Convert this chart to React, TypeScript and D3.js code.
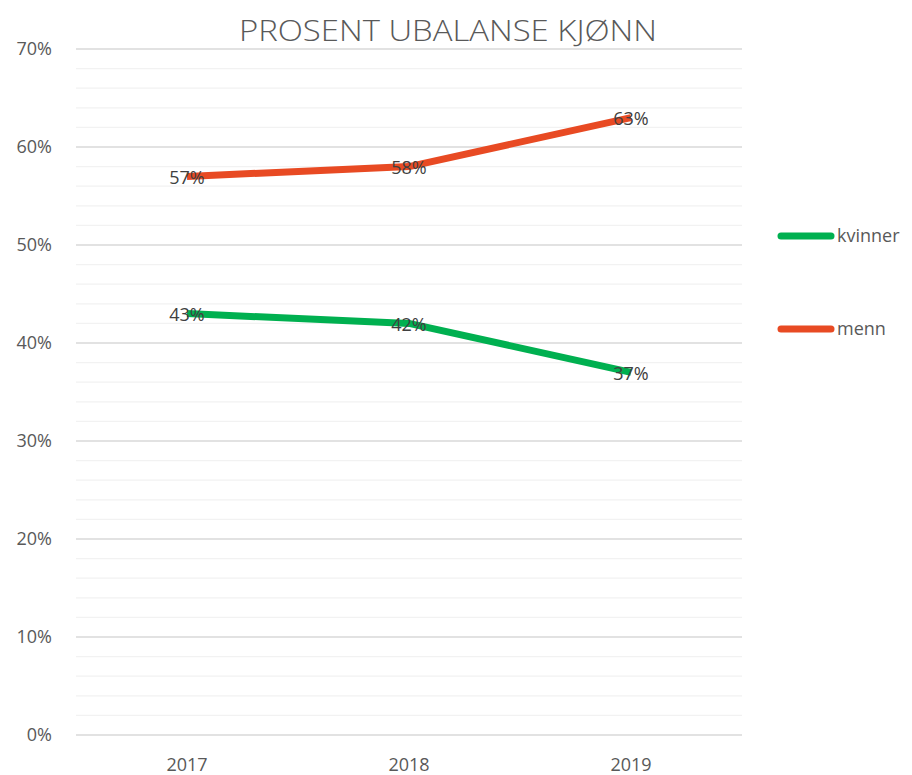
import React, { useEffect, useRef } from "react";
import * as d3 from "d3";

const years = ["2017", "2018", "2019"];
const kvinner = [43, 42, 37];
const menn = [57, 58, 63];
const seriesNames = ["kvinner", "menn"];
const seriesColors = ["#00B050", "#E84A23"];
const yTicks = [0, 10, 20, 30, 40, 50, 60, 70];
const title = "PROSENT UBALANSE KJØNN";

const App = () => {
  const ref = useRef<SVGSVGElement>(null);

  useEffect(() => {
    const width = 912;
    const height = 775;
    const margin = { top: 49, left: 76, right: 170, bottom: 40 };
    const font = "'Open Sans', sans-serif";

    const svg = d3.select(ref.current).attr("width", width).attr("height", height);
    svg.selectAll("*").remove();

    const x = d3
      .scaleBand()
      .domain(years)
      .range([margin.left, width - margin.right]);
    const y = d3
      .scaleLinear()
      .domain([0, 70])
      .range([height - margin.bottom, margin.top]);

    // minor gridlines every 2%
    svg
      .append("g")
      .selectAll("line")
      .data(d3.range(0, 71, 2).filter((v) => v % 10 !== 0))
      .join("line")
      .attr("x1", margin.left)
      .attr("x2", width - margin.right)
      .attr("y1", (d) => y(d))
      .attr("y2", (d) => y(d))
      .attr("stroke", "#F2F2F2")
      .attr("stroke-width", 1.3);

    // major gridlines
    svg
      .append("g")
      .selectAll("line")
      .data(yTicks)
      .join("line")
      .attr("x1", margin.left)
      .attr("x2", width - margin.right)
      .attr("y1", (d) => y(d))
      .attr("y2", (d) => y(d))
      .attr("stroke", "#D9D9D9")
      .attr("stroke-width", 1.5);

    // y labels
    svg
      .append("g")
      .selectAll("text")
      .data(yTicks)
      .join("text")
      .attr("x", 52)
      .attr("y", (d) => y(d))
      .attr("dy", "0.35em")
      .attr("text-anchor", "end")
      .attr("font-family", font)
      .attr("font-size", 18)
      .attr("fill", "#595959")
      .text((d) => d + "%");

    // x labels
    svg
      .append("g")
      .selectAll("text")
      .data(years)
      .join("text")
      .attr("x", (d) => x(d)! + x.bandwidth() / 2)
      .attr("y", 771)
      .attr("text-anchor", "middle")
      .attr("font-family", font)
      .attr("font-size", 18)
      .attr("fill", "#595959")
      .text((d) => d);

    // title
    svg
      .append("text")
      .attr("x", 448)
      .attr("y", 41)
      .attr("text-anchor", "middle")
      .attr("font-family", font)
      .attr("font-weight", 300)
      .attr("font-size", 30)
      .attr("fill", "#595959")
      .attr("textLength", 418)
      .attr("lengthAdjust", "spacingAndGlyphs")
      .text(title);

    const data = [kvinner, menn];
    const line = d3
      .line<number>()
      .x((_, i) => x(years[i])! + x.bandwidth() / 2)
      .y((d) => y(d));

    data.forEach((vals, si) => {
      svg
        .append("path")
        .datum(vals)
        .attr("d", line)
        .attr("fill", "none")
        .attr("stroke", seriesColors[si])
        .attr("stroke-width", 7)
        .attr("stroke-linejoin", "round");
    });

    data.forEach((vals) => {
      svg
        .append("g")
        .selectAll("text")
        .data(vals)
        .join("text")
        .attr("x", (_, i) => x(years[i])! + x.bandwidth() / 2)
        .attr("y", (d) => y(d))
        .attr("dy", "0.4em")
        .attr("text-anchor", "middle")
        .attr("font-family", font)
        .attr("font-size", 18)
        .attr("fill", "#404040")
        .text((d) => d + "%");
    });

    // legend
    const legendY = [236, 329];
    seriesNames.forEach((name, i) => {
      svg
        .append("line")
        .attr("x1", 781)
        .attr("x2", 831)
        .attr("y1", legendY[i])
        .attr("y2", legendY[i])
        .attr("stroke", seriesColors[i])
        .attr("stroke-width", 7)
        .attr("stroke-linecap", "round");
      svg
        .append("text")
        .attr("x", 837)
        .attr("y", legendY[i])
        .attr("dy", "0.35em")
        .attr("font-family", font)
        .attr("font-size", 18)
        .attr("fill", "#595959")
        .text(name);
    });
  });

  return (
    <div style={{ position: "absolute", left: 0, top: 0 }}>
      <svg ref={ref}></svg>
    </div>
  );
};

export default App;
